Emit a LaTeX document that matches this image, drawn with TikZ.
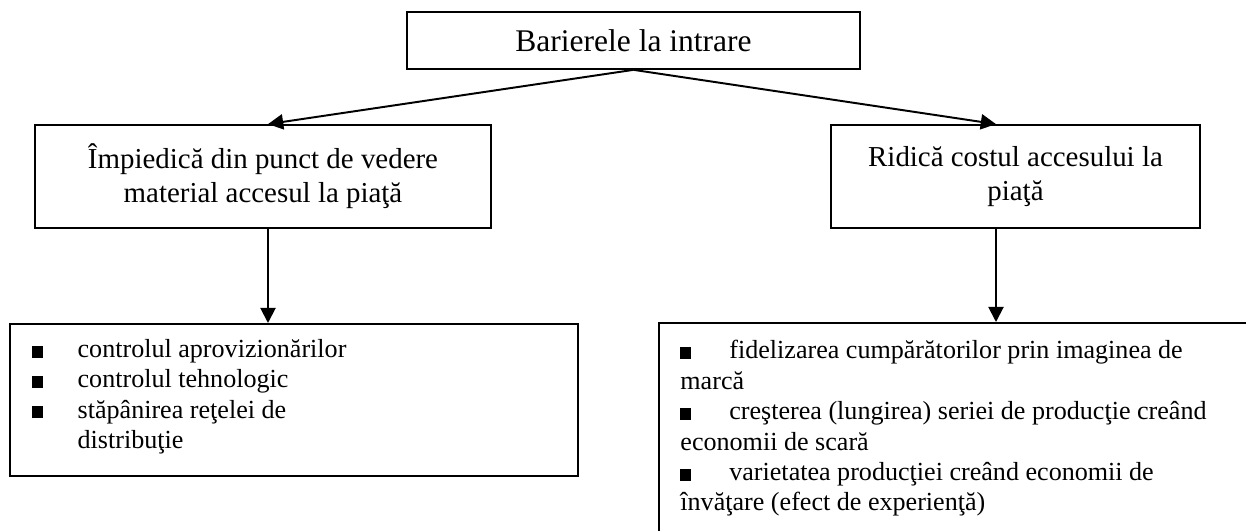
\documentclass[tikz,border=0pt]{standalone}
\usepackage{fontspec}
\setmainfont{Liberation Serif}
\usetikzlibrary{arrows.meta}
\newcommand{\sq}{\rule{4.7pt}{5.5pt}}

\begin{document}
\begin{tikzpicture}[x=0.46pt,y=-0.46pt,
        box/.style={draw,line width=0.8pt,inner sep=0pt,align=center},
        arr/.style={line width=0.9pt,-{Triangle[length=7pt,width=7pt]}},
        lst/.style={inner sep=0pt,align=left,font=\fontsize{12}{14}\selectfont}]
                \useasboundingbox (0,0) rectangle (1246,531);
                \clip (0,0) rectangle (1246,531);
                \coordinate (lx) at (268,0);
                \coordinate (rx) at (996,0);
                \node[box,minimum width=208.4pt,minimum height=26.2pt,font=\fontsize{14.5}{17}\selectfont] (top) at (633.5,40.5) {Barierele la intrare};
                \node[box,minimum width=209.8pt,minimum height=47.4pt,font=\fontsize{13.3}{15.6}\selectfont] (lmid) at (263,176.5) {Împiedică din punct de vedere\\material accesul la piaţă};
                \node[box,minimum width=169.7pt,minimum height=47.4pt,font=\fontsize{13.3}{15.6}\selectfont] (rmid) at (1015.5,176.5) {Ridică costul accesului la\\piaţă};
                \node[box,anchor=north west,minimum width=261.3pt,minimum height=69.9pt] (lbot) at (9,323) {};
                \node[box,anchor=north west,minimum width=277pt,minimum height=102.6pt] (rbot) at (658,322) {};
                \node[lst,anchor=north west] (ltxt) at (32,339) {\makebox[20.8pt][l]{\sq}controlul aprovizionărilor\\
                        \makebox[20.8pt][l]{\sq}controlul tehnologic\\
                        \makebox[20.8pt][l]{\sq}stăpânirea reţelei de\\
                        \hspace*{20.8pt}distribuţie};
                \node[lst,anchor=north west] (rtxt) at (680,340) {\makebox[22.5pt][l]{\sq}fidelizarea cumpărătorilor prin imaginea de\\
                        marcă\\
                        \makebox[22.5pt][l]{\sq}creşterea (lungirea) seriei de producţie creând\\
                        economii de scară\\
                        \makebox[22.5pt][l]{\sq}varietatea producţiei creând economii de\\
                        învăţare (efect de experienţă)};
                \draw[arr] (top.south)--(lmid.north -| lx);
                \draw[arr] (top.south)--(rmid.north -| rx);
                \draw[arr] (lmid.south -| lx)--(lbot.north -| lx);
                \draw[arr] (rmid.south -| rx)--(rbot.north -| rx);

                % \draw[red] (lbot.south east) circle (3);
\end{tikzpicture}
\end{document}
